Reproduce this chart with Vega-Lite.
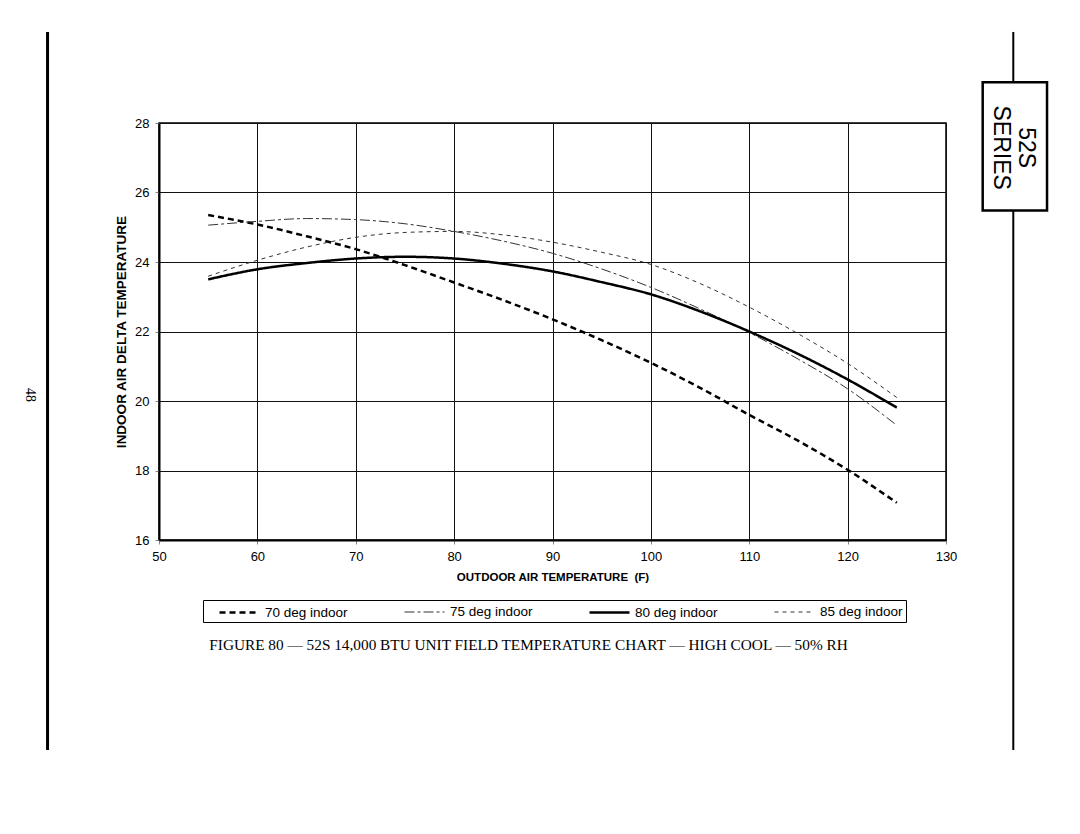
{
  "$schema": "https://vega.github.io/schema/vega-lite/v6.json",
  "width": 787,
  "height": 417,
  "autosize": {"type": "none"},
  "padding": {"left": 159, "top": 123, "right": 134, "bottom": 294},
  "background": "white",
  "config": {
    "view": {"stroke": "black", "strokeWidth": 1.5},
    "font": "Liberation Sans"
  },
  "title": {
    "text": "FIGURE 80 — 52S 14,000 BTU UNIT FIELD TEMPERATURE CHART — HIGH COOL — 50% RH",
    "orient": "bottom",
    "font": "Liberation Serif",
    "fontSize": 15.3,
    "fontWeight": "normal",
    "color": "black",
    "dx": -24,
    "offset": -113
  },
  "layer": [
    {
      "data": {
        "values": [
          {"series": "70 deg indoor", "outdoor": 55, "delta": 25.35},
          {"series": "70 deg indoor", "outdoor": 60, "delta": 25.08},
          {"series": "70 deg indoor", "outdoor": 65, "delta": 24.74},
          {"series": "70 deg indoor", "outdoor": 70, "delta": 24.37},
          {"series": "70 deg indoor", "outdoor": 75, "delta": 23.91},
          {"series": "70 deg indoor", "outdoor": 80, "delta": 23.41},
          {"series": "70 deg indoor", "outdoor": 85, "delta": 22.9},
          {"series": "70 deg indoor", "outdoor": 90, "delta": 22.35},
          {"series": "70 deg indoor", "outdoor": 95, "delta": 21.75},
          {"series": "70 deg indoor", "outdoor": 100, "delta": 21.1},
          {"series": "70 deg indoor", "outdoor": 105, "delta": 20.38},
          {"series": "70 deg indoor", "outdoor": 110, "delta": 19.6},
          {"series": "70 deg indoor", "outdoor": 115, "delta": 18.85},
          {"series": "70 deg indoor", "outdoor": 120, "delta": 18.02},
          {"series": "70 deg indoor", "outdoor": 125, "delta": 17.07},
          {"series": "75 deg indoor", "outdoor": 55, "delta": 25.06},
          {"series": "75 deg indoor", "outdoor": 60, "delta": 25.17},
          {"series": "75 deg indoor", "outdoor": 65, "delta": 25.25},
          {"series": "75 deg indoor", "outdoor": 70, "delta": 25.22},
          {"series": "75 deg indoor", "outdoor": 75, "delta": 25.1},
          {"series": "75 deg indoor", "outdoor": 80, "delta": 24.88},
          {"series": "75 deg indoor", "outdoor": 85, "delta": 24.6},
          {"series": "75 deg indoor", "outdoor": 90, "delta": 24.25},
          {"series": "75 deg indoor", "outdoor": 95, "delta": 23.8},
          {"series": "75 deg indoor", "outdoor": 100, "delta": 23.27},
          {"series": "75 deg indoor", "outdoor": 105, "delta": 22.65},
          {"series": "75 deg indoor", "outdoor": 110, "delta": 21.97},
          {"series": "75 deg indoor", "outdoor": 115, "delta": 21.2},
          {"series": "75 deg indoor", "outdoor": 120, "delta": 20.35},
          {"series": "75 deg indoor", "outdoor": 125, "delta": 19.3},
          {"series": "80 deg indoor", "outdoor": 55, "delta": 23.5},
          {"series": "80 deg indoor", "outdoor": 60, "delta": 23.79},
          {"series": "80 deg indoor", "outdoor": 65, "delta": 23.97},
          {"series": "80 deg indoor", "outdoor": 70, "delta": 24.1},
          {"series": "80 deg indoor", "outdoor": 75, "delta": 24.15},
          {"series": "80 deg indoor", "outdoor": 80, "delta": 24.1},
          {"series": "80 deg indoor", "outdoor": 85, "delta": 23.95},
          {"series": "80 deg indoor", "outdoor": 90, "delta": 23.73},
          {"series": "80 deg indoor", "outdoor": 95, "delta": 23.42},
          {"series": "80 deg indoor", "outdoor": 100, "delta": 23.07},
          {"series": "80 deg indoor", "outdoor": 105, "delta": 22.58},
          {"series": "80 deg indoor", "outdoor": 110, "delta": 22.0},
          {"series": "80 deg indoor", "outdoor": 115, "delta": 21.35},
          {"series": "80 deg indoor", "outdoor": 120, "delta": 20.62},
          {"series": "80 deg indoor", "outdoor": 125, "delta": 19.81},
          {"series": "85 deg indoor", "outdoor": 55, "delta": 23.59},
          {"series": "85 deg indoor", "outdoor": 60, "delta": 24.05},
          {"series": "85 deg indoor", "outdoor": 65, "delta": 24.43},
          {"series": "85 deg indoor", "outdoor": 70, "delta": 24.71},
          {"series": "85 deg indoor", "outdoor": 75, "delta": 24.85},
          {"series": "85 deg indoor", "outdoor": 80, "delta": 24.88},
          {"series": "85 deg indoor", "outdoor": 85, "delta": 24.78},
          {"series": "85 deg indoor", "outdoor": 90, "delta": 24.57},
          {"series": "85 deg indoor", "outdoor": 95, "delta": 24.28},
          {"series": "85 deg indoor", "outdoor": 100, "delta": 23.93},
          {"series": "85 deg indoor", "outdoor": 105, "delta": 23.38},
          {"series": "85 deg indoor", "outdoor": 110, "delta": 22.7},
          {"series": "85 deg indoor", "outdoor": 115, "delta": 21.93},
          {"series": "85 deg indoor", "outdoor": 120, "delta": 21.08},
          {"series": "85 deg indoor", "outdoor": 125, "delta": 20.1}
        ]
      },
      "mark": {"type": "line", "interpolate": "monotone"},
      "encoding": {
        "x": {
          "field": "outdoor",
          "type": "quantitative",
          "scale": {"domain": [50, 130], "nice": false},
          "axis": {
            "values": [50, 60, 70, 80, 90, 100, 110, 120, 130],
            "title": "OUTDOOR AIR TEMPERATURE \u00a0(F)",
            "grid": true,
            "gridColor": "#111111",
            "gridOpacity": 1,
            "gridWidth": 1,
            "domainColor": "black",
            "domainWidth": 2,
            "tickColor": "#888888",
            "tickSize": 4,
            "labelFlush": false,
            "labelFontSize": 13,
            "labelColor": "black",
            "labelPadding": 6,
            "titleFontSize": 11.5,
            "titleFontWeight": "bold",
            "titleColor": "black",
            "titlePadding": 8
          }
        },
        "y": {
          "field": "delta",
          "type": "quantitative",
          "scale": {"domain": [16, 28], "nice": false},
          "axis": {
            "values": [16, 18, 20, 22, 24, 26, 28],
            "title": "INDOOR AIR DELTA TEMPERATURE",
            "grid": true,
            "gridColor": "#111111",
            "gridOpacity": 1,
            "gridWidth": 1,
            "domainColor": "black",
            "domainWidth": 2,
            "tickColor": "#888888",
            "tickSize": 4,
            "labelFlush": false,
            "labelFontSize": 13,
            "labelColor": "black",
            "labelPadding": 6,
            "titleFontSize": 13.5,
            "titleFontWeight": "bold",
            "titleColor": "black",
            "titlePadding": 6
          }
        },
        "color": {
          "field": "series",
          "type": "nominal",
          "scale": {
            "domain": ["70 deg indoor", "75 deg indoor", "80 deg indoor", "85 deg indoor"],
            "range": ["black", "#333333", "black", "#333333"]
          },
          "legend": {
            "title": null,
            "orient": "none",
            "legendX": 44,
            "legendY": 477,
            "direction": "horizontal",
            "columns": 4,
            "columnPadding": 43,
            "symbolType": "M0.5,0H5.5",
            "symbolSize": 256,
            "labelFontSize": 13.5,
            "labelColor": "black",
            "labelOffset": 40,
            "strokeColor": "black",
            "padding": 3
          }
        },
        "strokeDash": {
          "field": "series",
          "type": "nominal",
          "scale": {
            "domain": ["70 deg indoor", "75 deg indoor", "80 deg indoor", "85 deg indoor"],
            "range": [[6, 4], [10, 3, 3, 3], [1, 0], [4, 4]]
          }
        },
        "strokeWidth": {
          "field": "series",
          "type": "ordinal",
          "scale": {
            "type": "ordinal",
            "domain": ["70 deg indoor", "75 deg indoor", "80 deg indoor", "85 deg indoor"],
            "range": [2.5, 1, 2.5, 1]
          }
        }
      }
    },
    {
      "data": {"values": [{}]},
      "mark": {"type": "rule", "color": "black", "strokeWidth": 3},
      "encoding": {"x": {"datum": 38.67}, "y": {"datum": 30.62}, "y2": {"datum": 9.96}}
    },
    {
      "data": {"values": [{}]},
      "mark": {"type": "rule", "color": "black", "strokeWidth": 2},
      "encoding": {"x": {"datum": 136.84}, "y": {"datum": 30.62}, "y2": {"datum": 29.17}}
    },
    {
      "data": {"values": [{}]},
      "mark": {"type": "rule", "color": "black", "strokeWidth": 2},
      "encoding": {"x": {"datum": 136.84}, "y": {"datum": 25.48}, "y2": {"datum": 9.96}}
    },
    {
      "data": {"values": [{}]},
      "mark": {"type": "rect", "fill": "white", "stroke": "black", "strokeWidth": 2.5},
      "encoding": {"x": {"datum": 133.73}, "x2": {"datum": 140.27}, "y": {"datum": 29.17}, "y2": {"datum": 25.48}}
    },
    {
      "data": {"values": [{}]},
      "mark": {"type": "text", "angle": 90, "align": "center", "baseline": "middle", "font": "Liberation Sans", "fontSize": 23, "lineHeight": 25, "color": "black", "text": ["52S", "SERIES"]},
      "encoding": {"x": {"datum": 138.1}, "y": {"datum": 27.29}}
    },
    {
      "data": {"values": [{}]},
      "mark": {"type": "text", "angle": 90, "align": "center", "baseline": "middle", "font": "Liberation Serif", "fontSize": 14, "color": "black", "text": "48"},
      "encoding": {"x": {"datum": 36.89}, "y": {"datum": 20.17}}
    }
  ]
}
